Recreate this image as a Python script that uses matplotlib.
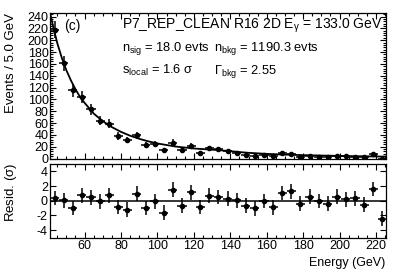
import numpy as np
import matplotlib
matplotlib.use("Agg")
import matplotlib.pyplot as plt
from matplotlib.ticker import MultipleLocator

plt.rcParams['font.family'] = ['Liberation Sans', 'DejaVu Sans']
plt.rcParams['mathtext.fontset'] = 'custom'
plt.rcParams['mathtext.rm'] = 'Liberation Sans'
plt.rcParams['mathtext.it'] = 'Liberation Sans'
plt.rcParams['mathtext.default'] = 'regular'

# bin edges (GeV), last bin is partial
bin_edges = [41, 46, 51, 56, 61, 66, 71, 76, 81, 86, 91, 96, 101, 106, 111, 116,
             121, 126, 131, 136, 141, 146, 151, 156, 161, 166, 171, 176, 181,
             186, 191, 196, 201, 206, 211, 216, 221, 225.5]
counts = [218, 161, 115, 104, 83, 64, 59, 38, 31, 39, 23, 24, 14, 27, 14, 21,
          10, 17, 16, 12, 9, 6, 5, 6, 4, 9, 8, 3, 5, 3, 3, 5, 4, 3, 3, 7, 0]
resid = [0.37, 0.05, -1.0, 0.73, 0.45, -0.1, 0.73, -0.86, -1.23, 0.96, -1.0,
         -0.1, -1.6, 1.5, -0.68, 1.14, -0.86, 0.68, 0.5, 0.3, 0.08, -0.66,
         -1.05, -0.05, -0.9, 1.05, 1.27, -0.42, 0.55, -0.05, -0.38, 0.55, 0.18,
         0.32, -0.55, 1.6, -2.45]

# fitted model
model_e = [41, 42.5, 45, 47.5, 50, 52.5, 55, 57.5, 60, 65, 70, 75, 80, 85,
           90, 95, 100, 110, 120, 125, 130, 135, 140, 145, 150, 160, 170, 180,
           190, 200, 210, 225.5]
model_n = [247, 226, 195, 170, 149, 132, 117, 104, 94, 76, 63, 53, 45,
           38.5, 33.3, 29, 25.4, 20.2, 16.9, 15.9, 14.9, 13.8, 12.4, 10.9, 9.6,
           7.8, 6.6, 5.7, 5.0, 4.35, 3.85, 3.2]

edges = np.array(bin_edges, dtype=float)
energy = 0.5 * (edges[1:] + edges[:-1])
half = 0.5 * (edges[1:] - edges[:-1])
counts = np.array(counts, dtype=float)

W, H = 399, 273
fig = plt.figure(figsize=(W / 100, H / 100), dpi=100)
ax = fig.add_axes([50 / W, 1 - 158.5 / H, 336 / W, 145.5 / H])
axr = fig.add_axes([50 / W, 1 - 237.5 / H, 336 / W, 73.5 / H])

ax.plot(model_e, model_n, color='k', lw=1.3, zorder=2)
ax.errorbar(energy, counts, xerr=half, yerr=np.sqrt(counts), fmt='o', ms=3.0,
            color='k', elinewidth=1.1, capsize=0, zorder=3)
ax.set_xlim(41, 225.5)
ax.set_ylim(0, 246)
ax.yaxis.set_major_locator(MultipleLocator(20))
ax.yaxis.set_minor_locator(MultipleLocator(4))
ax.xaxis.set_major_locator(MultipleLocator(20))
ax.xaxis.set_minor_locator(MultipleLocator(5))
ax.tick_params(labelbottom=False)

axr.axhline(0, color='k', lw=1.1)
axr.errorbar(energy, resid, xerr=half, yerr=1.0, fmt='o', ms=3.0, color='k',
             elinewidth=1.1, capsize=0)
axr.set_xlim(41, 225.5)
axr.set_ylim(-5, 5)
axr.xaxis.set_major_locator(MultipleLocator(20))
axr.xaxis.set_minor_locator(MultipleLocator(5))
axr.set_yticks([-4, -2, 0, 2, 4])
axr.set_yticklabels(['-4', '-2', '0', '2', '4'])

for a in (ax, axr):
    a.tick_params(which='both', direction='in', top=True, right=True,
                  labelsize=9, pad=1.5, width=0.8)
    a.tick_params(which='major', length=4.5)
    a.tick_params(which='minor', length=2.2)
    for s in a.spines.values():
        s.set_linewidth(0.9)
ax.tick_params(axis='y', pad=1)

def px(x, y):
    return x / W, 1 - y / H

fs = 9.3
fig.text(*px(64, 30), '(c)', fontsize=10, va='baseline')
fig.text(*px(122, 29), r'P7_REP_CLEAN R16 2D E$_{\gamma}$ = 133.0 GeV',
         fontsize=10, va='baseline')
fig.text(*px(122, 51), r'n$_{sig}$ = 18.0 evts', fontsize=fs, va='baseline')
fig.text(*px(214, 51), r'n$_{bkg}$ = 1190.3 evts', fontsize=fs, va='baseline')
fig.text(*px(122, 74), r's$_{local}$ = 1.6 $\sigma$', fontsize=fs, va='baseline')
fig.text(*px(214, 74), r'$\Gamma_{bkg}$ = 2.55', fontsize=fs, va='baseline')

fig.text(*px(11, 13), 'Events / 5.0 GeV', rotation=90, ha='center', va='top',
         fontsize=9.5)
fig.text(*px(11, 163), r'Resid. ($\sigma$)', rotation=90, ha='center',
         va='top', fontsize=9.5)
fig.text(*px(385, 263), 'Energy (GeV)', ha='right', va='center', fontsize=9)

fig.savefig('out.png', dpi=100)
